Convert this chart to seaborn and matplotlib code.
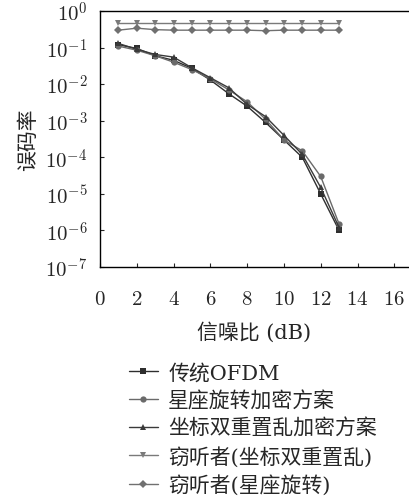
import numpy as np
import pandas as pd
import matplotlib
matplotlib.use("Agg")
import matplotlib.pyplot as plt
import seaborn as sns

# values
snr = [1, 2, 3, 4, 5, 6, 7, 8, 9, 10, 11, 12, 13]
ber_ofdm = [0.12, 0.095, 0.06, 0.045, 0.027, 0.013, 0.0055, 0.0025, 0.0009, 0.0003, 0.0001, 1.0e-5, 1.0e-6]
ber_rot = [0.11, 0.085, 0.06, 0.04, 0.025, 0.014, 0.007, 0.0033, 0.0011, 0.0003, 0.00015, 3.0e-5, 1.5e-6]
ber_scr = [0.13, 0.09, 0.065, 0.055, 0.028, 0.015, 0.008, 0.0028, 0.0013, 0.0004, 0.00012, 1.5e-5, 1.2e-6]
ber_eve_scr = [0.48, 0.48, 0.48, 0.48, 0.48, 0.48, 0.48, 0.48, 0.48, 0.48, 0.48, 0.48, 0.48]
ber_eve_rot = [0.30, 0.34, 0.31, 0.30, 0.30, 0.30, 0.30, 0.30, 0.29, 0.30, 0.30, 0.30, 0.30]
labels = ["传统OFDM", "星座旋转加密方案", "坐标双重置乱加密方案",
          "窃听者(坐标双重置乱)", "窃听者(星座旋转)"]

sns.set_theme(style="ticks")
plt.rcParams['font.family'] = ['DejaVu Serif', 'Noto Sans CJK SC']
plt.rcParams['mathtext.fontset'] = 'cm'

fig = plt.figure(figsize=(4.09, 5.02), dpi=100)
ax = fig.add_axes([0.2445, 0.466, 0.7555, 0.51])

series = [ber_ofdm, ber_rot, ber_scr, ber_eve_scr, ber_eve_rot]
markers = ["s", "o", "^", "v", "D"]
colors = ["#2e2e2e", "#6a6a6a", "#3a3a3a", "#7a7a7a", "#707070"]
for vals, lab, m, c in zip(series, labels, markers, colors):
    sns.lineplot(x=snr, y=vals, ax=ax, marker=m, color=c, label=lab,
                 markersize=4.5, linewidth=1.0, markeredgewidth=0)

ax.set_yscale("log")
ax.set_ylim(1e-7, 1)
ax.set_xlim(0, 16.8)
ax.set_xticks(range(0, 17, 2))
ax.set_yticks([10.0 ** -k for k in range(0, 8)])
ax.set_yticklabels([r"$10^{%d}$" % (-k) for k in range(0, 8)])
ax.set_xticklabels([r"$%d$" % v for v in range(0, 17, 2)])
ax.minorticks_off()
ax.tick_params(direction="in", length=3, width=0.8, labelsize=15)
ax.tick_params(axis="x", pad=16)
ax.tick_params(axis="y", pad=9)
ax.spines["right"].set_visible(False)
for s in ["left", "bottom", "top"]:
    ax.spines[s].set_linewidth(1.0)
    ax.spines[s].set_color("black")

ax.set_xlabel("信噪比 (dB)", fontsize=15, labelpad=9)
ax.set_ylabel("误码率", fontsize=15, labelpad=5)

h, l = ax.get_legend_handles_labels()
ax.get_legend().remove()
fig.legend(h, l, loc="upper left", bbox_to_anchor=(0.315, 0.276), frameon=False,
           fontsize=15, handlelength=1.4, handletextpad=0.5, labelspacing=0.37,
           borderaxespad=0, borderpad=0)

fig.savefig("out.png", dpi=100)
